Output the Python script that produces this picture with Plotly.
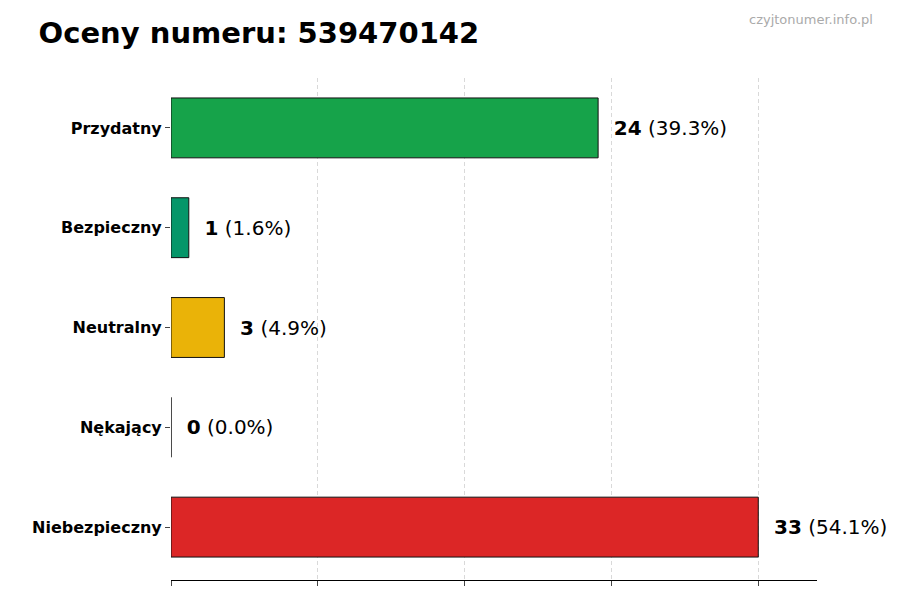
import plotly.graph_objects as go

categories = ['Przydatny', 'Bezpieczny', 'Neutralny', 'Nękający', 'Niebezpieczny']
counts = [24, 1, 3, 0, 33]
shares = [39.3, 1.6, 4.9, 0.0, 54.1]
colors = ['#16a34a', '#059669', '#eab308', '#9ca3af', '#dc2626']

mx = max(counts)
fig = go.Figure()
fig.add_trace(go.Bar(
    x=counts, y=categories, orientation='h', width=0.6,
    marker=dict(color=colors, line=dict(color='#111111', width=1)),
    text=[f'  <b>{c}</b> ({s:.1f}%)' for c, s in zip(counts, shares)],
    textposition='outside', cliponaxis=False,
    textfont=dict(size=20, color='black', family='DejaVu Sans'),
))

fig.update_layout(
    width=900, height=600, plot_bgcolor='white', paper_bgcolor='white',
    margin=dict(l=163, r=91, t=70, b=28), showlegend=False,
    font=dict(family='DejaVu Sans', color='black'),
    title=dict(text='<b>Oceny numeru: 539470142</b>', x=0.034, y=0.975,
               xanchor='left', yanchor='top', font=dict(size=29)),
    annotations=[dict(text='czyjtonumer.info.pl', xref='paper', yref='paper',
                      x=1.09, y=1.135, xanchor='right', showarrow=False,
                      font=dict(size=13, color='#aaaaaa'))],
)
fig.update_xaxes(range=[0, mx * 1.1], tickvals=[mx * i / 4 for i in range(5)],
                 showticklabels=False, ticks='outside', ticklen=5,
                 showgrid=True, gridcolor='#d9d9d9', griddash='4px,3px',
                 showline=True, linecolor='black', zeroline=False)
fig.update_yaxes(autorange=False, range=[4.53, -0.5], ticks='outside', ticklen=5,
                 tickfont=dict(size=16, family='DejaVu Sans', weight='bold'),
                 showline=False, showgrid=False)

fig.write_html("out.html")
